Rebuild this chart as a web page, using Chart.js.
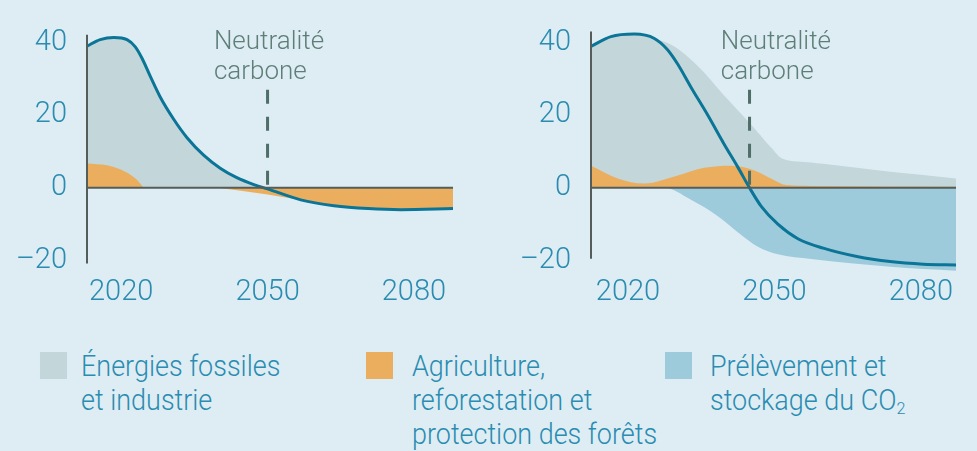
<!DOCTYPE html>
<html>
<head>
<meta charset="utf-8">
<script src="https://cdn.jsdelivr.net/npm/chart.js@4.4.0/dist/chart.umd.min.js"></script>
<style>
  body { margin: 0; background: #deedf4; width: 977px; height: 451px; overflow: hidden; position: relative; font-family: Roboto, sans-serif; }
  canvas { position: absolute; top: 0; }
  #left { left: 0; }
  #right { left: 490px; }
  .leg { position: absolute; top: 349px; color: #2a8cb0; font-size: 29px; font-weight: 300; line-height: 34px; white-space: nowrap; transform: scaleX(0.93); transform-origin: left top; }
  .sw { position: absolute; top: 352px; width: 27px; height: 27px; }
  sub { font-size: 60%; line-height: 0; vertical-align: -4px; }
</style>
</head>
<body>
<canvas id="left" width="480" height="310"></canvas>
<canvas id="right" width="487" height="310"></canvas>
<div id="legend"></div>
<script>
// ticks
const xTicks = [2020, 2050, 2080];
const yTicks = [-20, 0, 20, 40];
const neutralLabel = ['Neutralité', 'carbone'];

// left panel
const leftNetYears = [2013, 2015.7, 2018.5, 2021.2, 2022.9, 2024.3, 2026, 2028, 2030.8, 2033.5, 2036.9, 2040.3, 2043.7, 2047.2, 2050, 2056.8, 2063.6, 2070.6, 2077.3, 2088];
const leftNet      = [39.0, 40.8, 41.4, 40.8, 38.8, 35.6, 30.6, 25.0, 18.8, 13.8, 9.0, 5.4, 2.8, 0.9, -0.3, -3.3, -4.9, -5.7, -6.0, -5.7];
const leftAgriYears = [2013, 2017.1, 2019.8, 2021.9, 2023.6, 2024.6];
const leftAgri      = [6.7, 6.2, 5.1, 3.6, 1.7, 0];
const leftSinkYears = [2039.8, 2050, 2056.8, 2063.6, 2070.6, 2077.3, 2088];
const leftSink      = [0, -1.8, -3.3, -4.9, -5.7, -6.0, -5.7];

// right panel
const rightNetYears = [2012.4, 2016.5, 2021.3, 2025.4, 2028.1, 2030.2, 2032.9, 2036.3, 2039.7, 2042.5, 2044.9, 2047.3, 2050.7, 2054.8, 2060, 2066.9, 2073.7, 2080.5, 2087.2];
const rightNet      = [38.9, 41.6, 42.3, 41.1, 38.0, 34.0, 27.7, 20.1, 12.0, 5.7, 0, -5.1, -10.0, -14.0, -16.6, -18.9, -20.3, -21.0, -21.2];
const rightFossilYears = [2012.4, 2016.5, 2021.3, 2025.4, 2029.5, 2034.3, 2039.7, 2045.2, 2049.3, 2051.7, 2057.5, 2060, 2073.7, 2087.2];
const rightFossil      = [38.9, 41.6, 42.3, 41.1, 38.9, 33.5, 25.4, 17.4, 11.1, 8.0, 7.0, 6.6, 4.4, 2.6];
const rightAgriYears = [2012.4, 2017.9, 2023.3, 2030.2, 2035.6, 2041.1, 2045.9, 2049.3, 2052.4, 2057.5, 2087.2];
const rightAgri      = [6.1, 2.6, 1.2, 3.4, 5.5, 6.1, 4.8, 2.6, 0.75, 0.5, 0.3];
const rightCcsYears = [2026, 2027.4, 2032.9, 2038.4, 2042.5, 2046.6, 2050.7, 2057.5, 2073.7, 2087.2];
const rightCcs      = [0, 0, -3.3, -7.8, -12.2, -16.2, -18.3, -19.6, -21.7, -22.8];

const legendLabels = [
  ['Énergies fossiles', 'et industrie'],
  ['Agriculture,', 'reforestation et', 'protection des forêts'],
  ['Prélèvement et', 'stockage du CO<sub>2</sub>']
];

const GREY = '#c3d6da', ORANGE = '#ebae5e', BLUE = '#9ecbdc', LINE = '#0a7597', TICK = '#2a8cb0';

const pts = (xs, ys) => xs.map((x, i) => ({ x, y: ys[i] }));

const area = (data, color, order) => ({
  data, order, borderWidth: 0, pointRadius: 0, cubicInterpolationMode: 'monotone',
  fill: { target: 'origin', above: color, below: color }
});

const lineDs = data => ({
  data, order: 1, borderColor: LINE, borderWidth: 3, pointRadius: 0, fill: false, cubicInterpolationMode: 'monotone'
});

const decor = {
  id: 'decor',
  afterDatasetsDraw(chart, args, o) {
    const { ctx, chartArea: a, scales: { x, y } } = chart;
    ctx.save();
    ctx.strokeStyle = '#555d5b';
    ctx.lineWidth = 2;
    ctx.beginPath();
    ctx.moveTo(a.left, y.getPixelForValue(0));
    ctx.lineTo(a.right, y.getPixelForValue(0));
    ctx.moveTo(a.left, y.getPixelForValue(o.axisTop));
    ctx.lineTo(a.left, y.getPixelForValue(o.axisBottom));
    ctx.stroke();

    const nx = x.getPixelForValue(o.year);
    ctx.strokeStyle = '#4e6e67';
    ctx.lineWidth = 3;
    ctx.setLineDash([14, 13]);
    ctx.beginPath();
    ctx.moveTo(nx, y.getPixelForValue(27));
    ctx.lineTo(nx, y.getPixelForValue(0));
    ctx.stroke();
    ctx.setLineDash([]);

    ctx.fillStyle = '#5d7f77';
    ctx.font = '300 26px Roboto';
    const tx = x.getPixelForValue(2039);
    ctx.fillText(neutralLabel[0], tx, y.getPixelForValue(38.2));
    ctx.fillText(neutralLabel[1], tx, y.getPixelForValue(29.9));
    ctx.restore();
  }
};

function makeChart(id, datasets, xmin, xmax, axisW, rightPad, decorOpts) {
  return new Chart(document.getElementById(id), {
    type: 'line',
    data: { datasets },
    plugins: [decor],
    options: {
      responsive: false,
      animation: false,
      layout: { padding: { top: 24, right: rightPad, left: 0, bottom: 0 } },
      plugins: { legend: { display: false }, tooltip: { enabled: false }, decor: decorOpts },
      scales: {
        x: {
          type: 'linear', min: xmin, max: xmax,
          afterBuildTicks: s => { s.ticks = xTicks.map(v => ({ value: v })); },
          afterFit: s => { s.height = 38; },
          grid: { display: false }, border: { display: false },
          ticks: { color: TICK, padding: -5, maxRotation: 0, callback: v => String(v), font: { family: 'Roboto', size: 29, weight: 300 } }
        },
        y: {
          min: -23.16, max: 43.6,
          afterBuildTicks: s => { s.ticks = yTicks.map(v => ({ value: v })); },
          afterFit: s => { s.width = axisW; },
          grid: { display: false }, border: { display: false },
          ticks: { color: TICK, padding: 12, callback: v => v < 0 ? '–' + Math.abs(v) : String(v), font: { family: 'Roboto', size: 29, weight: 300 } }
        }
      }
    }
  });
}

makeChart('left', [
  { ...area(pts(leftNetYears, leftNet), GREY, 4), fill: { target: 'origin', above: GREY, below: 'rgba(0,0,0,0)' } },
  area(pts(leftAgriYears, leftAgri), ORANGE, 3),
  area(pts(leftSinkYears, leftSink), ORANGE, 2),
  lineDs(pts(leftNetYears, leftNet))
], 2013, 2088, 87, 27, { year: 2050, axisTop: 42.1, axisBottom: -20.8 });

makeChart('right', [
  area(pts(rightFossilYears, rightFossil), GREY, 4),
  area(pts(rightAgriYears, rightAgri), ORANGE, 3),
  area(pts(rightCcsYears, rightCcs), BLUE, 2),
  lineDs(pts(rightNetYears, rightNet))
], 2012.42, 2087.2, 101, 21, { year: 2044.9, axisTop: 43.0, axisBottom: -19.5 });

// legend
const legColors = [GREY, ORANGE, BLUE];
const swLeft = [40, 366, 665];
const textLeft = [81, 412, 710];
const legend = document.getElementById('legend');
legendLabels.forEach((lines, i) => {
  const sw = document.createElement('div');
  sw.className = 'sw';
  sw.style.left = swLeft[i] + 'px';
  sw.style.background = legColors[i];
  legend.appendChild(sw);
  const t = document.createElement('div');
  t.className = 'leg';
  t.style.left = textLeft[i] + 'px';
  t.innerHTML = lines.join('<br>');
  legend.appendChild(t);
});
</script>
</body>
</html>
